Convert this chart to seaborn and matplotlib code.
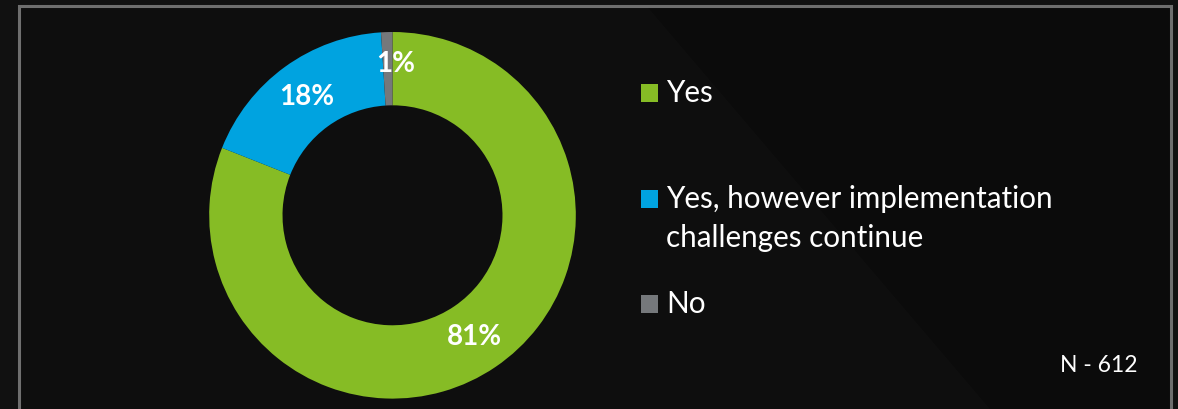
import textwrap

import matplotlib
matplotlib.use("Agg")
import matplotlib.pyplot as plt
from matplotlib.patches import Rectangle, Polygon
import seaborn as sns

# Survey responses
categories = ["Yes", "Yes, however implementation challenges continue", "No"]
shares = [81, 18, 1]
palette = ["#86BC25", "#00A3E0", "#75787B"]
sample_note = "N - 612"

sns.set_theme(style="white")
plt.rcParams["font.family"] = ["Lato", "DejaVu Sans"]

W, H = 1178, 409
fig = plt.figure(figsize=(W / 100, H / 100), dpi=100, facecolor="#111111")

# Background layer in pixel coordinates (origin top-left)
bg = fig.add_axes([0, 0, 1, 1])
bg.set_xlim(0, W)
bg.set_ylim(H, 0)
bg.axis("off")
bg.add_patch(Rectangle((18.5, 6), 1152, 430, facecolor="#0b0b0b",
                       edgecolor="#6e6e6e", linewidth=2.2, zorder=1))
# soft diagonal sheen across the panel
bg.add_patch(Polygon([(20, 7.5), (648, 7.5), (990, 409), (20, 409)], closed=True,
                     facecolor="#ffffff", alpha=0.016, edgecolor="none", zorder=2))

# Donut
cx, cy, r = 392.5, 215.3, 183.3
pie_ax = fig.add_axes([(cx - r) / W, 1 - (cy + r) / H, 2 * r / W, 2 * r / H])
pie_ax.set_facecolor("none")
wedges, _, pct_texts = pie_ax.pie(
    shares,
    colors=palette,
    startangle=90,
    counterclock=False,
    radius=1,
    wedgeprops=dict(width=0.4, edgecolor="none"),
    autopct=lambda p: f"{p:.0f}%",
    pctdistance=0.8,
    textprops=dict(color="white", fontsize=20, fontweight="bold"),
)
pie_ax.set_xlim(-1, 1)
pie_ax.set_ylim(-1, 1)
pie_ax.set_aspect("equal")
pie_ax.axis("off")

# nudge the small-slice label so it sits clear of the wedge edge
x0, y0 = pct_texts[2].get_position()
pct_texts[2].set_position((x0 + 0.045, y0 + 0.028))

# Legend drawn as swatches with wrapped labels, one baseline per line
legend_baselines = [101.7, 208.0, 313.0]
line_gap = 39.0
for label, color, base in zip(categories, palette, legend_baselines):
    bg.add_patch(Rectangle((640.5, base - 17.6), 17.6, 17.6, facecolor=color,
                           edgecolor="none", zorder=3))
    for k, line in enumerate(textwrap.wrap(label, 28)):
        bg.text(666.5, base + k * line_gap, line, color="white", fontsize=21.3,
                va="baseline", ha="left", zorder=3)

bg.text(1138, 372, sample_note, color="white", fontsize=16.5, ha="right",
        va="baseline", zorder=3)

fig.savefig("out.png", dpi=100, facecolor=fig.get_facecolor())
